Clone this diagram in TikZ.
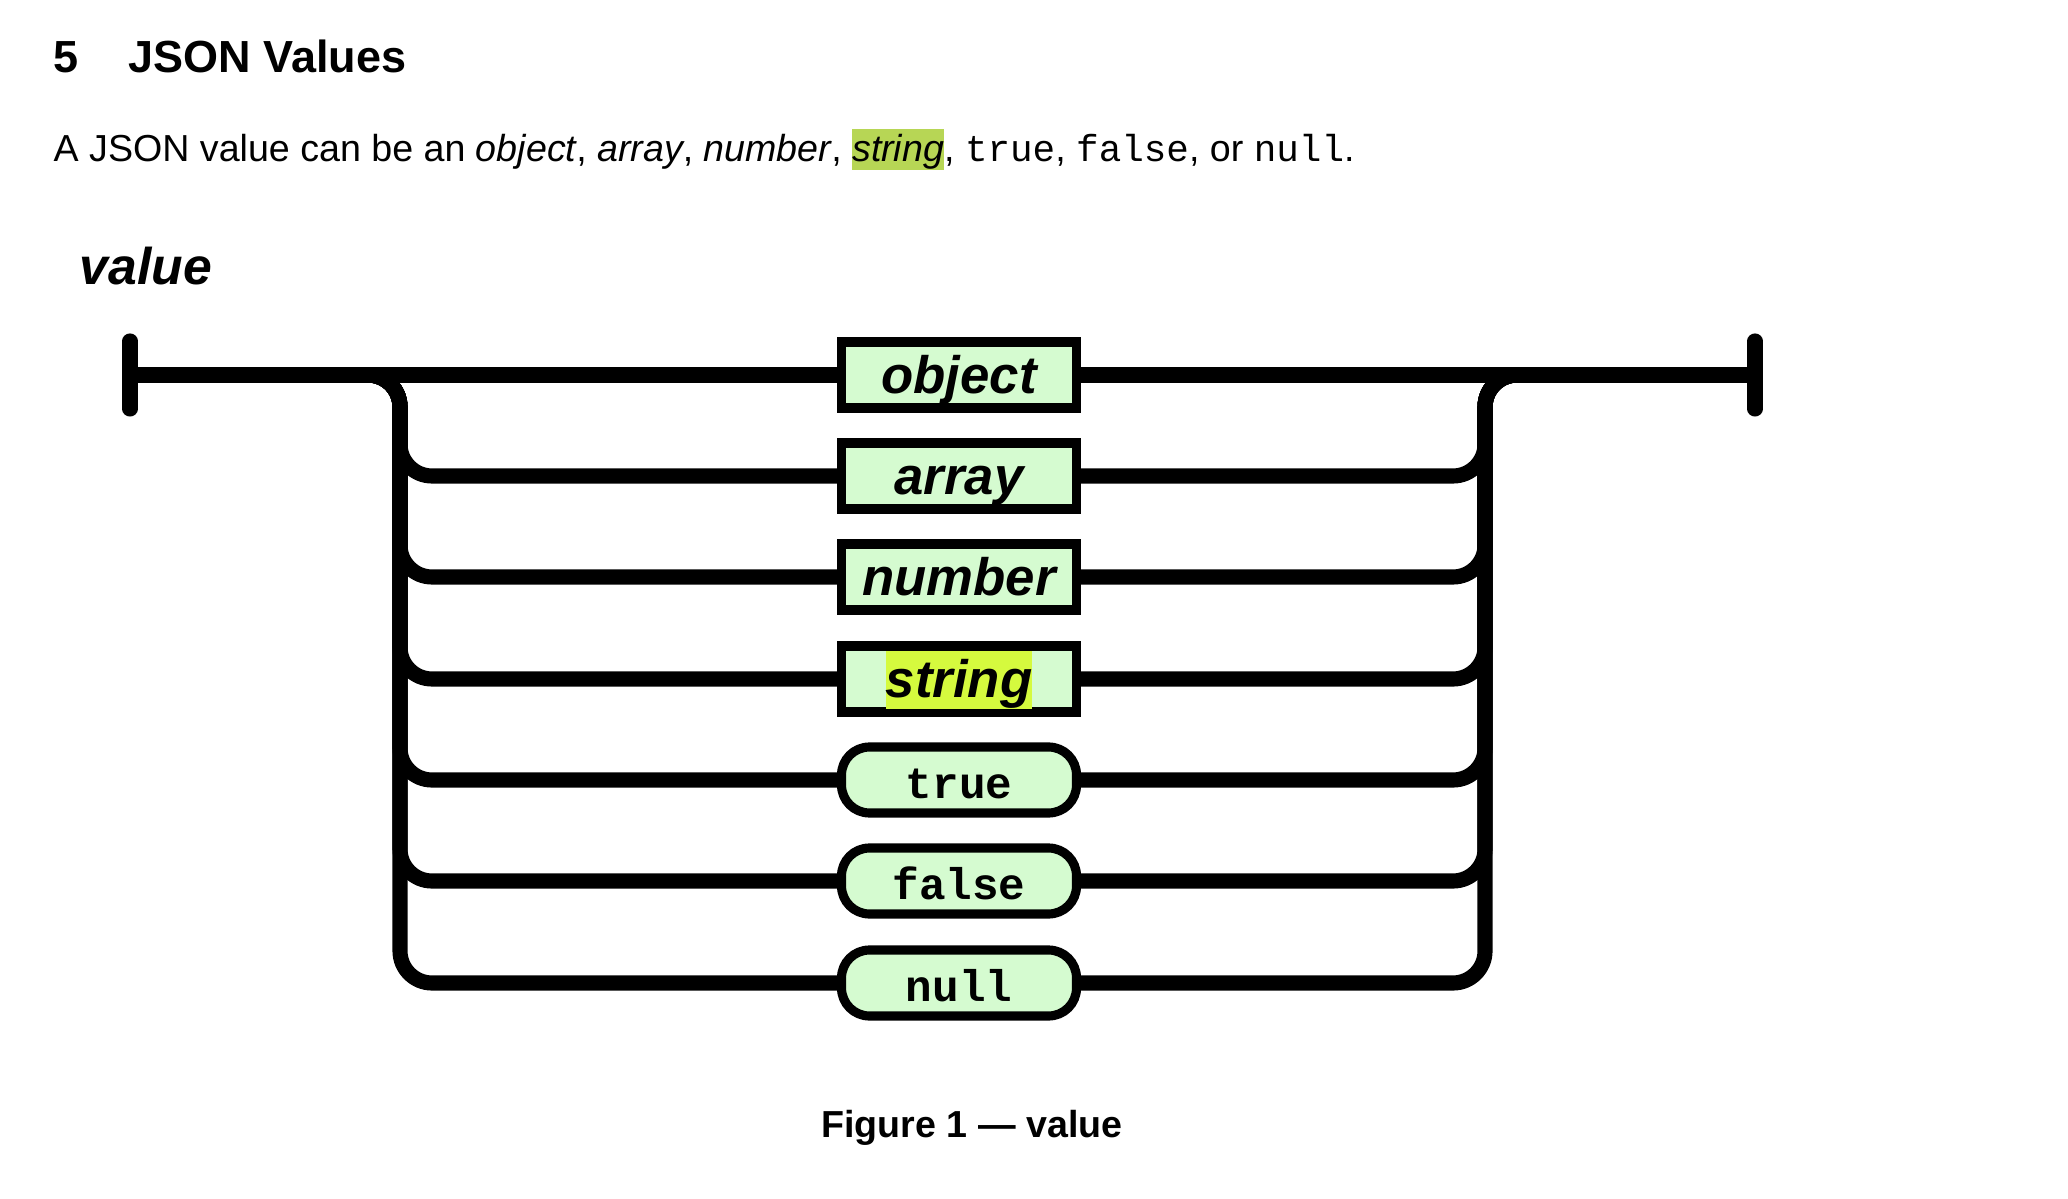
\documentclass[tikz,border=0pt]{standalone}
\usepackage{fontspec}
\setmainfont{Liberation Sans}
\setmonofont{Liberation Mono}
\usetikzlibrary{calc}

\definecolor{boxgreen}{RGB}{213,251,208}
\definecolor{hltext}{RGB}{183,214,85}
\definecolor{hlbox}{RGB}{213,250,62}

\tikzset{
  rail/.style={line width=4.3pt, rounded corners=0.32cm},
  bar/.style={line width=4.3pt, line cap=round},
  nonterm/.style={draw, line width=2.6pt, fill=boxgreen, minimum width=2.35cm, minimum height=0.66cm,
    inner sep=0pt, text height=0.40cm, text depth=0.02cm, font=\fontsize{15}{18}\selectfont\bfseries\itshape},
  term/.style={nonterm, rounded corners=0.28cm, text height=0.38cm, text depth=0.02cm,
    font=\fontsize{12.6}{15}\selectfont\ttfamily\bfseries},
  plain/.style={anchor=base west, inner sep=0pt}
}

\begin{document}
\begin{tikzpicture}
  \useasboundingbox (0,0) rectangle (20.68,11.98);

  % heading and text
  \node[plain, font=\fontsize{12.8}{15}\selectfont\bfseries] (num) at (0.53,11.25) {5};
  \node[plain, font=\fontsize{12.8}{15}\selectfont\bfseries] (title) at (1.28,11.25) {JSON Values};
  \node[plain, font=\fontsize{10.7}{13}\selectfont] (intro) at (0.53,10.36)
    {A JSON value can be an \textit{object}, \textit{array}, \textit{number},
     {\setlength\fboxsep{0pt}\colorbox{hltext}{\rule[-0.08cm]{0pt}{0.41cm}\textit{string}}},
     \texttt{true}, \texttt{false}, or \texttt{null}.};
  \node[plain, font=\fontsize{14.7}{17}\selectfont\bfseries\itshape] (name) at (0.79,9.13) {value};

  % ends of the rail
  \coordinate (start) at (1.30,8.23);
  \coordinate (end) at (17.55,8.23);
  \coordinate (jl) at (4.00,8.23);
  \coordinate (jr) at (14.85,8.23);

  % boxes
  \node[nonterm] (object) at (9.59,8.23) {object};
  \node[nonterm] (array) at (9.59,7.22) {array};
  \node[nonterm] (number) at (9.59,6.21) {number};
  \node[nonterm] (string) at (9.59,5.19)
    {{\setlength\fboxsep{0pt}\colorbox{hlbox}{\rule[-0.05cm]{0pt}{0.52cm}string}}};
  \node[term] (true) at (9.59,4.18) {true};
  \node[term] (false) at (9.59,3.17) {false};
  \node[term] (null) at (9.59,2.15) {null};

  % rail
  \draw[bar] ([yshift=0.34cm]start) -- ([yshift=-0.34cm]start);
  \draw[bar] ([yshift=0.34cm]end) -- ([yshift=-0.34cm]end);
  \draw[rail] (start) -- (object.west);
  \draw[rail] (object.east) -- (end);
  \foreach \n in {array,number,string,true,false,null}{
    \draw[rail] (start) -| (jl |- \n.west) -- (\n.west);
    \draw[rail] (\n.east) -| (jr) -- (end);
  }

  \node[font=\fontsize{10.7}{13}\selectfont\bfseries, anchor=base] (caption) at (9.72,0.61) {Figure 1 — value};
\end{tikzpicture}
\end{document}
